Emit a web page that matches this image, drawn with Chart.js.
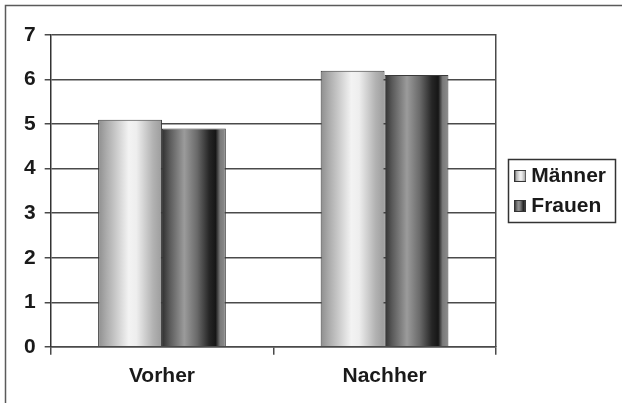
<!DOCTYPE html>
<html>
<head>
<meta charset="utf-8">
<script src="https://cdn.jsdelivr.net/npm/chart.js@4.4.1/dist/chart.umd.min.js"></script>
<style>
  html, body { margin: 0; padding: 0; background: #ffffff; }
  #wrap { width: 622px; height: 403px; position: relative; }
</style>
</head>
<body>
<div id="wrap"><canvas id="c" width="622" height="403"></canvas></div>
<script>
const categories = ['Vorher', 'Nachher'];
const seriesNames = ['Männer', 'Frauen'];
const maennerValues = [5.1, 6.2];
const frauenValues = [4.9, 6.1];
const yTicks = [0, 1, 2, 3, 4, 5, 6, 7];

const FONT = '"Liberation Sans", Arial, Helvetica, sans-serif';
const INK = '#1a1a1a';
const GRID = '#4a4a4a';

const gradStops = [
  [[0, '#8e8e8e'], [0.12, '#a9a9a9'], [0.48, '#f3f3f3'], [0.6, '#eeeeee'], [0.86, '#b2b2b2'], [1, '#9c9c9c']],
  [[0, '#303030'], [0.12, '#5a5a5a'], [0.35, '#9b9b9b'], [0.55, '#6a6a6a'], [0.74, '#262626'], [0.84, '#161616'], [0.91, '#7a7a7a'], [1, '#8c8c8c']]
];

function applyStops(g, stops) { stops.forEach(s => g.addColorStop(s[0], s[1])); return g; }

function swatch(stops) {
  const c = document.createElement('canvas');
  c.width = 12; c.height = 12;
  const x = c.getContext('2d');
  x.fillStyle = applyStops(x.createLinearGradient(0, 0, 12, 0), stops);
  x.fillRect(0, 0, 12, 12);
  x.strokeStyle = '#333';
  x.lineWidth = 1;
  x.strokeRect(0.5, 0.5, 11, 11);
  return c;
}
const swatches = [swatch(gradStops[0]), swatch(gradStops[1])];

const gradientPlugin = {
  id: 'barGradients',
  beforeDatasetsDraw(chart) {
    const ctx = chart.ctx;
    chart.data.datasets.forEach((ds, i) => {
      const meta = chart.getDatasetMeta(i);
      meta.data.forEach(el => {
        const g = ctx.createLinearGradient(el.x - el.width / 2, 0, el.x + el.width / 2, 0);
        applyStops(g, gradStops[i]);
        el.options = Object.assign({}, el.options, { backgroundColor: g });
      });
    });
  }
};

const framePlugin = {
  id: 'frame',
  beforeDraw(chart) {
    const ctx = chart.ctx;
    ctx.save();
    ctx.fillStyle = '#ffffff';
    ctx.fillRect(0, 0, chart.width, chart.height);
    ctx.strokeStyle = '#5a5a5a';
    ctx.lineWidth = 1.5;
    ctx.beginPath();
    ctx.moveTo(5.5, chart.height);
    ctx.lineTo(5.5, 5.5);
    ctx.lineTo(chart.width, 5.5);
    ctx.stroke();
    ctx.restore();
  },
  afterDraw(chart) {
    const lg = chart.legend;
    if (!lg || !lg.legendHitBoxes || !lg.legendHitBoxes.length) return;
    const hb = lg.legendHitBoxes;
    let l = Infinity, r = -Infinity, t = Infinity, b = -Infinity;
    hb.forEach(h => { l = Math.min(l, h.left); r = Math.max(r, h.left + h.width); t = Math.min(t, h.top); b = Math.max(b, h.top + h.height); });
    const ctx = chart.ctx;
    ctx.save();
    ctx.strokeStyle = '#333333';
    ctx.lineWidth = 1.5;
    ctx.strokeRect(Math.round(l - 12) + 0.5, Math.round(t - 6) + 0.5, Math.round(r - l + 21), Math.round(b - t + 12));
    ctx.restore();
  }
};

new Chart(document.getElementById('c'), {
  type: 'bar',
  plugins: [framePlugin, gradientPlugin],
  data: {
    labels: categories,
    datasets: [
      { label: seriesNames[0], data: maennerValues, backgroundColor: '#cccccc', borderColor: '#3a3a3a', borderWidth: 1, categoryPercentage: 0.574, barPercentage: 1.0 },
      { label: seriesNames[1], data: frauenValues, backgroundColor: '#555555', borderColor: '#3a3a3a', borderWidth: 1, categoryPercentage: 0.574, barPercentage: 1.0 }
    ]
  },
  options: {
    responsive: false,
    animation: false,
    devicePixelRatio: 1,
    layout: { padding: { top: 35, left: 15, right: 12, bottom: 5 } },
    plugins: {
      tooltip: { enabled: false },
      title: { display: false },
      legend: {
        display: true,
        position: 'right',
        fullSize: false,
        align: 'center',
        labels: {
          usePointStyle: true,
          boxWidth: 1,
          boxHeight: 12,
          padding: 9,
          color: INK,
          font: { family: FONT, size: 21, weight: 'bold' },
          generateLabels(chart) {
            return chart.data.datasets.map((ds, i) => ({
              text: ds.label,
              pointStyle: swatches[i],
              fillStyle: '#fff',
              strokeStyle: '#333',
              lineWidth: 1,
              hidden: false,
              datasetIndex: i,
              fontColor: INK
            }));
          }
        }
      }
    },
    scales: {
      x: {
        grid: { display: true, drawOnChartArea: false, drawTicks: true, tickLength: 8, color: GRID, lineWidth: 1.5, offset: true },
        border: { display: true, color: GRID, width: 1.5 },
        ticks: { color: INK, padding: 9, font: { family: FONT, size: 21, weight: 'bold' } }
      },
      y: {
        min: 0,
        max: 7,
        afterBuildTicks(axis) { axis.ticks = yTicks.map(v => ({ value: v })); },
        grid: { display: true, color: GRID, lineWidth: 1.5, tickLength: 6, drawTicks: true },
        border: { display: true, color: '#333333', width: 1.5 },
        ticks: { color: INK, padding: 9, font: { family: FONT, size: 21, weight: 'bold' } }
      },
      y2: {
        position: 'right',
        min: 0,
        max: 7,
        grid: { display: false, drawTicks: false },
        border: { display: true, color: GRID, width: 1.5 },
        ticks: { display: false },
        afterFit(axis) { axis.width = 15; }
      }
    }
  }
});
</script>
</body>
</html>
